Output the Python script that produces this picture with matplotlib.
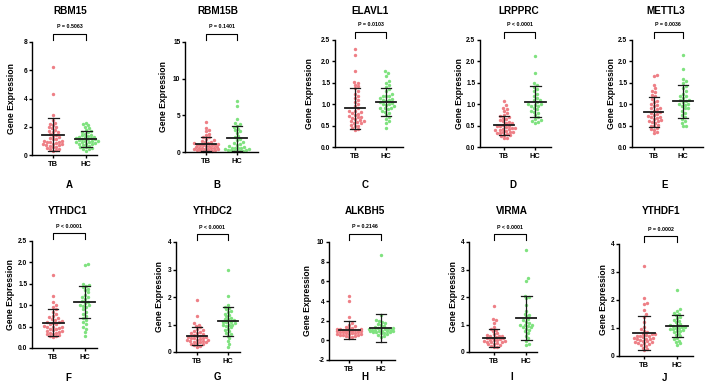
import numpy as np
import matplotlib
matplotlib.use('Agg')
import matplotlib.pyplot as plt

plt.rcParams['font.family'] = ['Liberation Sans', 'DejaVu Sans']

# ---------------- data ----------------
genes = ['RBM15', 'RBM15B', 'ELAVL1', 'LRPPRC', 'METTL3',
         'YTHDC1', 'YTHDC2', 'ALKBH5', 'VIRMA', 'YTHDF1']
letters = ['A', 'B', 'C', 'D', 'E', 'F', 'G', 'H', 'I', 'J']
p_labels = ['P = 0.5063', 'P = 0.1401', 'P = 0.0103', 'P < 0.0001', 'P = 0.0036',
            'P < 0.0001', 'P < 0.0001', 'P = 0.2146', 'P < 0.0001', 'P = 0.0002']
groups = ['TB', 'HC']

yticks = [
    [0, 2, 4, 6, 8],
    [0, 5, 10, 15],
    [0.0, 0.5, 1.0, 1.5, 2.0, 2.5],
    [0.0, 0.5, 1.0, 1.5, 2.0, 2.5],
    [0.0, 0.5, 1.0, 1.5, 2.0, 2.5],
    [0.0, 0.5, 1.0, 1.5, 2.0, 2.5],
    [0, 1, 2, 3, 4],
    [-2, 0, 2, 4, 6, 8, 10],
    [0, 1, 2, 3, 4],
    [0, 1, 2, 3, 4],
]

tb_rbm15 = [6.2, 4.35, 2.85, 2.5, 2.3, 2.2, 2.1, 2.0, 1.9, 1.8, 1.7, 1.6, 1.5, 1.4, 1.35, 1.3, 1.2, 1.1,
            1.0, 1.0, 0.95, 0.9, 0.85, 0.8, 0.8, 0.75, 0.7, 0.65, 0.6, 0.55, 0.5, 0.45, 0.4, 0.35, 0.3,
            0.9, 1.15, 1.6, 0.7, 2.0]
hc_rbm15 = [2.3, 2.2, 2.1, 2.0, 1.9, 1.8, 1.7, 1.65, 1.6, 1.5, 1.45, 1.4, 1.35, 1.3, 1.25, 1.2, 1.15,
            1.1, 1.05, 1.0, 1.0, 0.95, 0.9, 0.9, 0.85, 0.8, 0.75, 0.7, 0.65, 0.6, 0.55, 0.5, 0.45, 0.4,
            0.3, 1.2, 1.1, 0.8, 1.3, 1.0]
tb_rbm15b = [4.1, 3.3, 3.0, 2.8, 2.5, 2.3, 2.1, 2.0, 1.8, 1.6, 1.5, 1.4, 1.3, 1.2, 1.1, 1.0, 0.95, 0.9,
             0.8, 0.7, 0.6, 0.5, 0.45, 0.4, 0.35, 0.3, 0.25, 0.2, 0.15, 0.1, 0.8, 0.6, 1.2, 0.5, 0.3,
             0.7, 1.0, 0.4, 0.2, 0.9]
hc_rbm15b = [6.9, 6.3, 4.5, 4.0, 3.8, 3.6, 3.4, 3.2, 3.0, 2.8, 2.6, 2.2, 2.0, 1.8, 1.6, 1.4, 1.2, 1.0,
             0.8, 0.7, 0.6, 0.5, 0.4, 0.3, 0.25, 0.2, 0.15, 0.1, 0.4, 0.6, 0.3, 0.5, 1.1, 0.2]
tb_elavl1 = [2.28, 2.15, 1.78, 1.52, 1.5, 1.45, 1.42, 1.37, 1.3, 1.25, 1.2, 1.15, 1.05, 1.0, 0.95, 0.9,
             0.85, 0.82, 0.8, 0.78, 0.75, 0.72, 0.7, 0.68, 0.65, 0.62, 0.6, 0.58, 0.55, 0.52, 0.5,
             0.48, 0.45, 0.42, 0.4, 0.7, 0.85, 0.6, 1.1, 0.55]
hc_elavl1 = [1.78, 1.72, 1.65, 1.55, 1.5, 1.45, 1.4, 1.35, 1.3, 1.25, 1.2, 1.18, 1.15, 1.12, 1.1, 1.08,
             1.05, 1.02, 1.0, 0.98, 0.95, 0.92, 0.9, 0.88, 0.85, 0.82, 0.8, 0.75, 0.7, 0.65, 0.6,
             0.55, 0.45, 1.0, 1.1, 1.2, 0.9]
tb_lrpprc = [1.07, 0.98, 0.92, 0.88, 0.85, 0.8, 0.75, 0.72, 0.7, 0.68, 0.65, 0.62, 0.6, 0.58, 0.55,
             0.52, 0.5, 0.48, 0.46, 0.45, 0.43, 0.42, 0.4, 0.38, 0.36, 0.35, 0.33, 0.32, 0.3, 0.28,
             0.27, 0.25, 0.22, 0.2, 0.45, 0.5, 0.55, 0.35, 0.4]
hc_lrpprc = [2.12, 1.72, 1.5, 1.45, 1.4, 1.35, 1.3, 1.25, 1.2, 1.15, 1.1, 1.05, 1.0, 0.98, 0.95, 0.9,
             0.88, 0.85, 0.82, 0.8, 0.75, 0.7, 0.65, 0.62, 0.6, 0.58, 0.55, 1.1, 1.0, 0.95]
tb_mettl3 = [1.68, 1.66, 1.45, 1.38, 1.32, 1.28, 1.22, 1.18, 1.12, 1.08, 1.05, 1.0, 0.98, 0.95, 0.92,
             0.88, 0.85, 0.82, 0.8, 0.78, 0.75, 0.72, 0.7, 0.68, 0.65, 0.62, 0.6, 0.58, 0.55, 0.52,
             0.5, 0.48, 0.45, 0.42, 0.4, 0.35, 0.32, 0.7, 0.6, 0.9]
hc_mettl3 = [2.15, 1.82, 1.6, 1.55, 1.5, 1.42, 1.38, 1.3, 1.25, 1.2, 1.15, 1.1, 1.08, 1.05, 1.0, 0.98,
             0.95, 0.9, 0.85, 0.8, 0.75, 0.7, 0.65, 0.6, 0.55, 0.5, 0.48, 1.0, 1.1, 1.2, 0.9]
tb_ythdc1 = [1.71, 1.22, 1.08, 1.0, 0.95, 0.9, 0.85, 0.8, 0.75, 0.72, 0.7, 0.68, 0.65, 0.62, 0.6, 0.58,
             0.55, 0.52, 0.5, 0.48, 0.46, 0.45, 0.42, 0.4, 0.38, 0.36, 0.35, 0.33, 0.32, 0.3, 0.28,
             0.27, 0.25, 0.5, 0.45, 0.55, 0.6, 0.4]
hc_ythdc1 = [1.96, 1.93, 1.5, 1.48, 1.45, 1.42, 1.38, 1.35, 1.3, 1.25, 1.2, 1.18, 1.15, 1.1, 1.08, 1.05,
             1.0, 0.98, 0.95, 0.9, 0.85, 0.8, 0.75, 0.7, 0.65, 0.6, 0.55, 0.5, 0.45, 0.38, 0.27, 1.0]
tb_ythdc2 = [1.88, 1.32, 1.05, 1.0, 0.95, 0.9, 0.85, 0.8, 0.75, 0.72, 0.7, 0.68, 0.65, 0.62, 0.6, 0.58,
             0.55, 0.52, 0.5, 0.48, 0.45, 0.42, 0.4, 0.38, 0.35, 0.32, 0.3, 0.28, 0.25, 0.22, 0.2,
             0.45, 0.5, 0.55, 0.4, 0.35]
hc_ythdc2 = [2.98, 2.05, 1.72, 1.65, 1.6, 1.55, 1.5, 1.45, 1.4, 1.35, 1.3, 1.25, 1.2, 1.15, 1.1, 1.08,
             1.05, 1.0, 0.98, 0.95, 0.9, 0.85, 0.8, 0.75, 0.7, 0.65, 0.6, 0.5, 0.4, 0.3, 0.2, 1.1, 1.2, 1.0]
tb_alkbh5 = [4.55, 4.0, 2.4, 1.8, 1.6, 1.5, 1.4, 1.3, 1.25, 1.2, 1.15, 1.1, 1.05, 1.0, 0.95, 0.9, 0.85,
             0.8, 0.75, 0.7, 0.65, 0.6, 0.55, 0.5, 0.45, 0.4, 0.35, 0.3, 0.9, 1.0, 0.8, 1.1, 0.7, 0.6,
             1.2, 0.5]
hc_alkbh5 = [8.7, 2.6, 2.1, 2.0, 1.9, 1.8, 1.7, 1.6, 1.5, 1.4, 1.3, 1.25, 1.2, 1.15, 1.1, 1.05, 1.0,
             0.95, 0.9, 0.85, 0.8, 0.75, 0.7, 0.6, 0.5, 0.4, 0.3, 1.0, 1.1, 0.9, 1.2, 0.8, 1.3]
tb_virma = [1.67, 1.2, 1.15, 1.05, 0.9, 0.85, 0.8, 0.75, 0.7, 0.65, 0.62, 0.6, 0.58, 0.55, 0.52, 0.5,
            0.48, 0.45, 0.42, 0.4, 0.38, 0.35, 0.32, 0.3, 0.28, 0.25, 0.22, 0.2, 0.18, 0.5, 0.4, 0.6,
            0.35, 0.45]
hc_virma = [3.7, 2.7, 2.6, 2.05, 2.0, 1.95, 1.7, 1.5, 1.4, 1.35, 1.3, 1.2, 1.15, 1.1, 1.05, 1.0, 0.98,
            0.95, 0.9, 0.85, 0.8, 0.75, 0.7, 0.6, 0.5, 0.4, 0.3, 0.25, 1.0, 0.9]
tb_ythdf1 = [3.22, 2.08, 1.88, 1.85, 1.65, 1.5, 1.4, 1.2, 1.05, 0.95, 0.9, 0.85, 0.8, 0.78, 0.75, 0.72,
             0.7, 0.68, 0.65, 0.62, 0.6, 0.58, 0.55, 0.52, 0.5, 0.48, 0.45, 0.42, 0.4, 0.35, 0.3, 0.25,
             0.2, 0.7, 0.6, 0.5, 0.8, 0.65]
hc_ythdf1 = [2.35, 1.68, 1.62, 1.55, 1.5, 1.45, 1.4, 1.35, 1.3, 1.25, 1.2, 1.15, 1.1, 1.08, 1.05, 1.02,
             1.0, 0.98, 0.95, 0.92, 0.9, 0.85, 0.8, 0.75, 0.7, 0.65, 0.6, 0.55, 0.5, 0.45, 0.4, 1.0,
             1.1, 0.9]

tb_values = [tb_rbm15, tb_rbm15b, tb_elavl1, tb_lrpprc, tb_mettl3,
             tb_ythdc1, tb_ythdc2, tb_alkbh5, tb_virma, tb_ythdf1]
hc_values = [hc_rbm15, hc_rbm15b, hc_elavl1, hc_lrpprc, hc_mettl3,
             hc_ythdc1, hc_ythdc2, hc_alkbh5, hc_virma, hc_ythdf1]

# mean and SD bar ends
tb_mean = [1.45, 1.05, 0.90, 0.51, 0.82, 0.59, 0.60, 1.05, 0.52, 0.82]
tb_sd_lo = [0.30, 0.10, 0.42, 0.29, 0.47, 0.28, 0.25, 0.15, 0.20, 0.20]
tb_sd_hi = [2.60, 2.00, 1.37, 0.73, 1.16, 0.90, 0.92, 1.95, 0.83, 1.43]
hc_mean = [1.15, 1.85, 1.05, 1.05, 1.07, 1.07, 1.12, 1.25, 1.22, 1.07]
hc_sd_lo = [0.60, 0.10, 0.72, 0.69, 0.68, 0.69, 0.60, -0.15, 0.42, 0.68]
hc_sd_hi = [1.70, 3.60, 1.39, 1.42, 1.46, 1.46, 1.63, 2.65, 2.03, 1.46]

# ---------------- layout (pixels in 709x386 image) ----------------
W, H = 709, 386
# y-axis x, x-axis end, axis bottom y, axis top y, xlim left, xlim right
layout = [
    (32, 97, 155, 42, -0.64, 1.33),
    (185, 258, 152, 42, -0.68, 1.68),
    (335, 403, 147, 40, -0.65, 1.55),
    (480, 551, 147, 40, -0.77, 1.50),
    (632, 703, 147, 40, -0.73, 1.67),
    (32, 97, 348, 241, -0.66, 1.38),
    (176, 240, 352, 242, -0.68, 1.39),
    (329, 395, 360, 242, -0.63, 1.44),
    (469, 537, 352, 242, -0.78, 1.34),
    (619, 693, 356, 244, -0.76, 1.48),
]
title_xy = [(70, 11), (218, 11), (370, 11), (519, 11), (666, 11),
            (68, 211), (213, 211), (365, 211), (512, 211), (661, 211)]
letter_xy = [(69, 185), (217, 185), (365, 185), (513, 185), (665, 185),
             (68, 378), (217, 377), (365, 377), (512, 377), (665, 378)]
ylabel_x = [12, 163, 310, 459, 611, 11, 160, 307, 454, 603]

tb_color = '#EE7F86'
hc_color = '#7FE27F'
bar_color = '#1a1a1a'


def swarm_offsets(vals, px_per_x, px_per_y, diam=3.0, width=0.40):
    """Greedy beeswarm in pixel space; returns x offsets in data units."""
    vals = np.asarray(vals, dtype=float)
    order = np.argsort(vals)
    placed = []
    offs = np.zeros(len(vals))
    step = 0.5 * diam / px_per_x
    cands = [0.0]
    k = 1
    while k * step <= width:
        cands += [k * step, -k * step]
        k += 1
    for idx in order:
        y = vals[idx] * px_per_y
        best, best_d = cands[0], -1
        for c in cands:
            x = c * px_per_x
            dmin = min([np.hypot(x - px, y - py) for px, py in placed] or [1e9])
            if dmin >= diam:
                best = c
                break
            if dmin > best_d:
                best, best_d = c, dmin
        offs[idx] = best
        placed.append((best * px_per_x, y))
    return offs


fig = plt.figure(figsize=(W / 100, H / 100), dpi=100)

for i in range(10):
    x0, x1, yb, yt, xl, xr = layout[i]
    ax = fig.add_axes([x0 / W, 1 - yb / H, (x1 - x0) / W, (yb - yt) / H])
    ticks = yticks[i]
    ylo, yhi = ticks[0], ticks[-1]
    px_per_x = (x1 - x0) / (xr - xl)
    px_per_y = (yb - yt) / (yhi - ylo)
    for g, (vals, col, m, lo, hi) in enumerate([
            (tb_values[i], tb_color, tb_mean[i], tb_sd_lo[i], tb_sd_hi[i]),
            (hc_values[i], hc_color, hc_mean[i], hc_sd_lo[i], hc_sd_hi[i])]):
        offs = swarm_offsets(vals, px_per_x, px_per_y)
        ax.scatter(g + offs, vals, s=6, color=col, linewidths=0, zorder=2, clip_on=False)
        ax.plot([g - 0.33, g + 0.33], [m, m], color=bar_color, lw=1.3, zorder=3)
        ax.plot([g, g], [lo, hi], color=bar_color, lw=0.9, zorder=3)
        ax.plot([g - 0.17, g + 0.17], [lo, lo], color=bar_color, lw=0.9, zorder=3)
        ax.plot([g - 0.17, g + 0.17], [hi, hi], color=bar_color, lw=0.9, zorder=3)

    ax.set_xlim(xl, xr)
    ax.set_ylim(ylo, yhi)
    ax.set_yticks(ticks)
    if isinstance(ticks[1], float):
        ax.set_yticklabels([f'{t:.1f}' for t in ticks])
    else:
        ax.set_yticklabels([str(t) for t in ticks])
    ax.set_xticks([0, 1])
    ax.set_xticklabels(groups)
    for s in ['top', 'right']:
        ax.spines[s].set_visible(False)
    for s in ['left', 'bottom']:
        ax.spines[s].set_linewidth(1.0)
    ax.tick_params(axis='both', length=2.5, width=1.0, pad=0.8, labelsize=4.8)
    ax.tick_params(axis='x', labelsize=5.4, pad=2)
    for lab in ax.get_xticklabels() + ax.get_yticklabels():
        lab.set_fontweight('bold')
    ax.patch.set_alpha(0)

    # significance bracket (in pixel offsets above axes top)
    axh = yb - yt
    ybr = 1 + 8 / axh
    yleg = 1 + 2 / axh
    ytxt = 1 + 15 / axh
    tr = ax.get_xaxis_transform()
    ax.plot([0, 0, 1, 1], [yleg, ybr, ybr, yleg], color='black', lw=0.8,
            transform=tr, clip_on=False)
    ax.text(0.5, ytxt, p_labels[i], transform=tr, ha='center', va='center',
            fontsize=3.8, fontweight='bold')

    # title, y label, panel letter
    tx, ty = title_xy[i]
    fig.text(tx / W, 1 - ty / H, genes[i], ha='center', va='center',
             fontsize=7.2, fontweight='bold')
    fig.text(ylabel_x[i] / W, 1 - ((yb + yt) / 2) / H, 'Gene Expression', rotation=90,
             ha='center', va='center', fontsize=6.2, fontweight='bold')
    lx, ly = letter_xy[i]
    fig.text(lx / W, 1 - ly / H, letters[i], ha='center', va='center',
             fontsize=7.0, fontweight='bold')

fig.savefig('out.png', dpi=100)
